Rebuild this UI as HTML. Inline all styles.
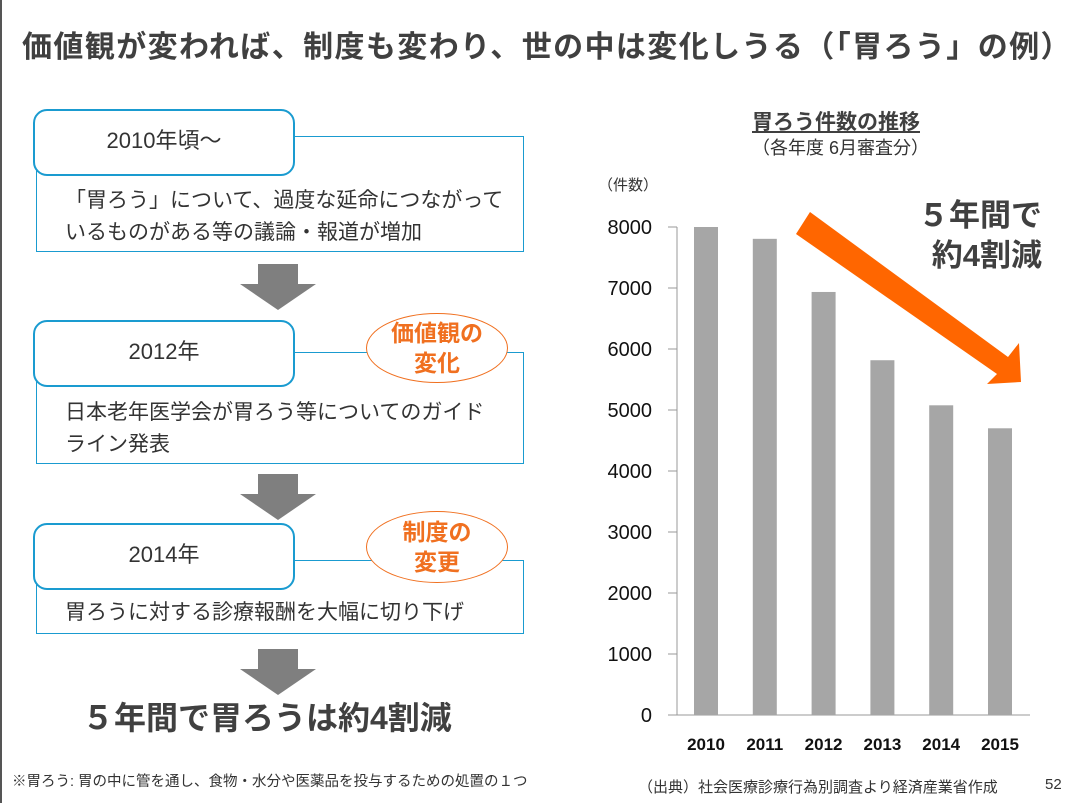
<!DOCTYPE html>
<html><head><meta charset="utf-8">
<style>
body{margin:0;width:1078px;height:803px;background:#fff;position:relative;overflow:hidden;font-family:"Liberation Sans","Noto Sans CJK JP",sans-serif;color:#333}
.abs{position:absolute}
.title{left:22px;top:22px;font-size:30px;font-weight:bold;color:#404040;white-space:nowrap;letter-spacing:1.4px}
.head{border:2.5px solid #1a9bd0;border-radius:14px;background:#fff;width:262px;height:67px;box-sizing:border-box;font-size:22px;text-align:center;line-height:60px;color:#333}
.body{border:1.5px solid #1a9bd0;box-sizing:border-box;font-size:21px;line-height:32px;padding-left:28px;color:#333}
.oval{border:1.5px solid #f07020;border-radius:50%;background:#fff;color:#f07020;font-weight:bold;font-size:23px;text-align:center;line-height:30px;box-sizing:border-box}
</style></head><body>
<div class="abs" style="left:0;top:0;width:2px;height:803px;background:#555"></div>
<div class="abs title">価値観が変われば、制度も変わり、世の中は変化しうる（「胃ろう」の例）</div>

<div class="abs body" style="left:36px;top:136px;width:488px;height:116px;padding-top:48px">「胃ろう」について、過度な延命につながって<br>いるものがある等の議論・報道が増加</div>
<div class="abs head" style="left:33px;top:109px">2010年頃～</div>

<svg class="abs" style="left:240px;top:264px" width="80" height="50"><polygon points="18,0 58,0 58,20 76,20 38,46 0,20 18,20" fill="#7f7f7f"/></svg>

<div class="abs body" style="left:36px;top:352px;width:488px;height:112px;padding-top:44px">日本老年医学会が胃ろう等についてのガイド<br>ライン発表</div>
<div class="abs head" style="left:33px;top:320px">2012年</div>
<div class="abs oval" style="left:366px;top:313px;width:142px;height:70px;padding-top:4px">価値観の<br>変化</div>

<svg class="abs" style="left:240px;top:474px" width="80" height="50"><polygon points="18,0 58,0 58,20 76,20 38,46 0,20 18,20" fill="#7f7f7f"/></svg>

<div class="abs body" style="left:36px;top:560px;width:488px;height:74px;padding-top:36px">胃ろうに対する診療報酬を大幅に切り下げ</div>
<div class="abs head" style="left:33px;top:523px">2014年</div>
<div class="abs oval" style="left:366px;top:511px;width:142px;height:72px;padding-top:5px">制度の<br>変更</div>

<svg class="abs" style="left:240px;top:649px" width="80" height="50"><polygon points="18,0 58,0 58,20 76,20 38,46 0,20 18,20" fill="#7f7f7f"/></svg>
<div class="abs" style="left:82px;top:693px;font-size:32px;font-weight:bold;color:#404040;white-space:nowrap">５年間で胃ろうは約4割減</div>

<div class="abs" style="left:12px;top:770px;font-size:14.5px;color:#333;white-space:nowrap">※胃ろう: 胃の中に管を通し、食物・水分や医薬品を投与するための処置の１つ</div>
<div class="abs" style="left:638px;top:776px;font-size:15px;color:#333;white-space:nowrap">（出典）社会医療診療行為別調査より経済産業省作成</div>
<div class="abs" style="left:1045px;top:776px;font-size:15px;color:#333">52</div>

<div class="abs" style="left:752px;top:106px;font-size:21px;font-weight:bold;text-decoration:underline;color:#404040">胃ろう件数の推移</div>
<div class="abs" style="left:752px;top:134px;font-size:18px;color:#333">（各年度 6月審査分）</div>
<div class="abs" style="left:598px;top:174px;font-size:15px;color:#333">（件数）</div>
<div class="abs" style="left:906px;top:196px;font-size:31px;font-weight:bold;color:#404040;text-align:right;width:136px;line-height:40px">５年間で<br>約4割減</div>

<svg id="chart" class="abs" style="left:0;top:0" width="1078" height="803"></svg>
<script>
const years=["2010","2011","2012","2013","2014","2015"];
const counts=[8000,7806,6935,5816,5077,4700];
const yTicks=[0,1000,2000,3000,4000,5000,6000,7000,8000];
const svg=document.getElementById('chart');
const NS='http://www.w3.org/2000/svg';
const y0=715,pxPer=(715-227)/8000,axX=677,x0=706,step=58.8,bw=24;
function ys(v){return y0-v*pxPer;}
function xs(i){return x0+i*step;}
function mk(t,a){const e=document.createElementNS(NS,t);for(const k in a)e.setAttribute(k,a[k]);svg.appendChild(e);return e;}
let ax=mk('line',{x1:axX,y1:ys(8000),x2:axX,y2:y0,stroke:'#999','stroke-width':1});


let bx=mk('line',{x1:axX,y1:y0,x2:1030,y2:y0,stroke:'#999','stroke-width':1});


yTicks.forEach(v=>{
 let t=mk('line',{x1:axX-9,y1:ys(v),x2:axX,y2:ys(v),stroke:'#999'});
 
 
 let l=mk('text',{x:652,y:ys(v)+7,'text-anchor':'end','font-size':20,fill:'#111','font-family':'Liberation Sans, sans-serif'});
 l.textContent=v;
 
 
});
years.forEach((yr,i)=>{
 let r=mk('rect',{x:xs(i)-bw/2,y:ys(counts[i]),width:bw,height:y0-ys(counts[i]),fill:'#a6a6a6'});
 
 
 let l=mk('text',{x:xs(i),y:750,'text-anchor':'middle','font-size':17,'font-weight':'bold',fill:'#111','font-family':'Liberation Sans, sans-serif'});
 l.textContent=yr;
 
 
});
let ar=mk('polygon',{points:'810,212 796,234 997,374 987,384 1021,382 1019,343 1008,357',fill:'#ff6600'});


</script>
</body></html>
